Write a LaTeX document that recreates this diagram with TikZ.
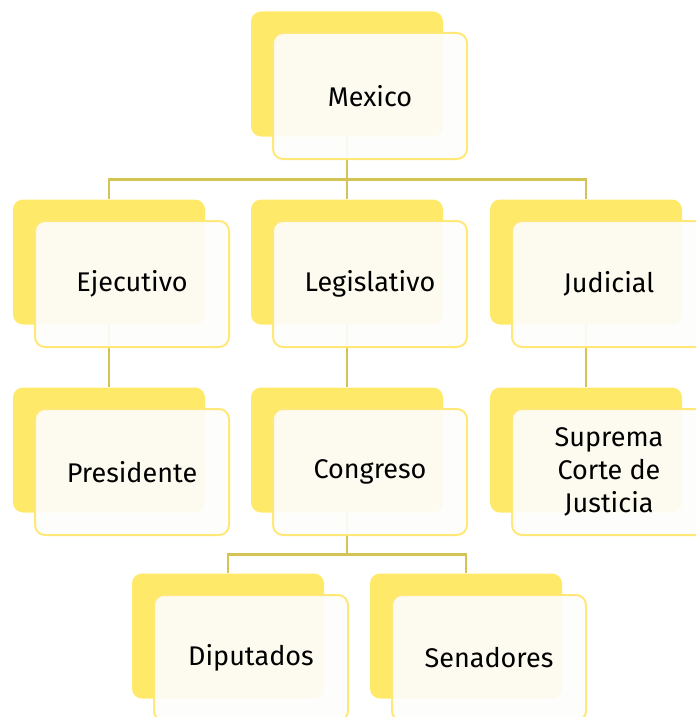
\documentclass[tikz,border=0pt]{standalone}
\usepackage{fontspec}
\setmainfont{Fira Sans}
\usetikzlibrary{positioning,backgrounds}
\definecolor{backyellow}{RGB}{255,233,104}
\definecolor{edgeyellow}{RGB}{255,232,120}
\definecolor{linkolive}{RGB}{212,196,86}
\definecolor{paper}{RGB}{253,253,251}
\tikzset{%
backbox/.style={fill=backyellow,rounded corners=10pt,minimum width=192pt,minimum height=125pt,inner sep=0},
frontbox/.style={draw=edgeyellow,line width=2pt,fill=paper,fill opacity=0.92,text opacity=1,rounded corners=10pt,minimum width=194pt,minimum height=126pt,align=center,font=\fontsize{27}{33}\selectfont,inner sep=0},
link/.style={draw=linkolive,line width=2.5pt},
fwd/.style={shift={(23,22)}}
}
\begin{document}
\begin{tikzpicture}[x=1pt,y=-1pt]
  \useasboundingbox (0,0) rectangle (696,717);
  \clip (0,0) rectangle (696,717);

  % back boxes
  \node[backbox] (mexb) at (347,74) {};
  \node[backbox] (ejeb) at (109,262) {};
  \node[backbox] (legb) at (347,262) {};
  \node[backbox] (judb) at (586,262) {};
  \node[backbox] (preb) at (109,450) {};
  \node[backbox] (conb) at (347,450) {};
  \node[backbox] (supb) at (586,450) {};
  \node[backbox] (dipb) at (228,636) {};
  \node[backbox] (senb) at (466,636) {};

  % front boxes
  \node[frontbox] (mex) at ([fwd]mexb.center) {Mexico};
  \node[frontbox] (eje) at ([fwd]ejeb.center) {Ejecutivo};
  \node[frontbox] (leg) at ([fwd]legb.center) {Legislativo};
  \node[frontbox] (jud) at ([fwd]judb.center) {Judicial};
  \node[frontbox] (pre) at ([fwd]preb.center) {Presidente};
  \node[frontbox] (con) at ([fwd]conb.center) {Congreso};
  \node[frontbox] (sup) at ([fwd]supb.center) {Suprema\\Corte de\\Justicia};
  \node[frontbox] (dip) at ([fwd]dipb.center) {Diputados};
  \node[frontbox] (sen) at ([fwd]senb.center) {Senadores};

  % links
  \begin{scope}[on background layer]
    \draw[link] (ejeb.north) -- ++(0,-20) -| (mexb.south);
    \draw[link] (legb.north) -- ++(0,-20) -| (mexb.south);
    \draw[link] (judb.north) -- ++(0,-20) -| (mexb.south);
    \draw[link] (ejeb.south) -- (preb.north);
    \draw[link] (legb.south) -- (conb.north);
    \draw[link] (judb.south) -- (supb.north);
    \draw[link] (dipb.north) -- ++(0,-19) -| (conb.south);
    \draw[link] (senb.north) -- ++(0,-19) -| (conb.south);
  \end{scope}

\end{tikzpicture}
\end{document}
